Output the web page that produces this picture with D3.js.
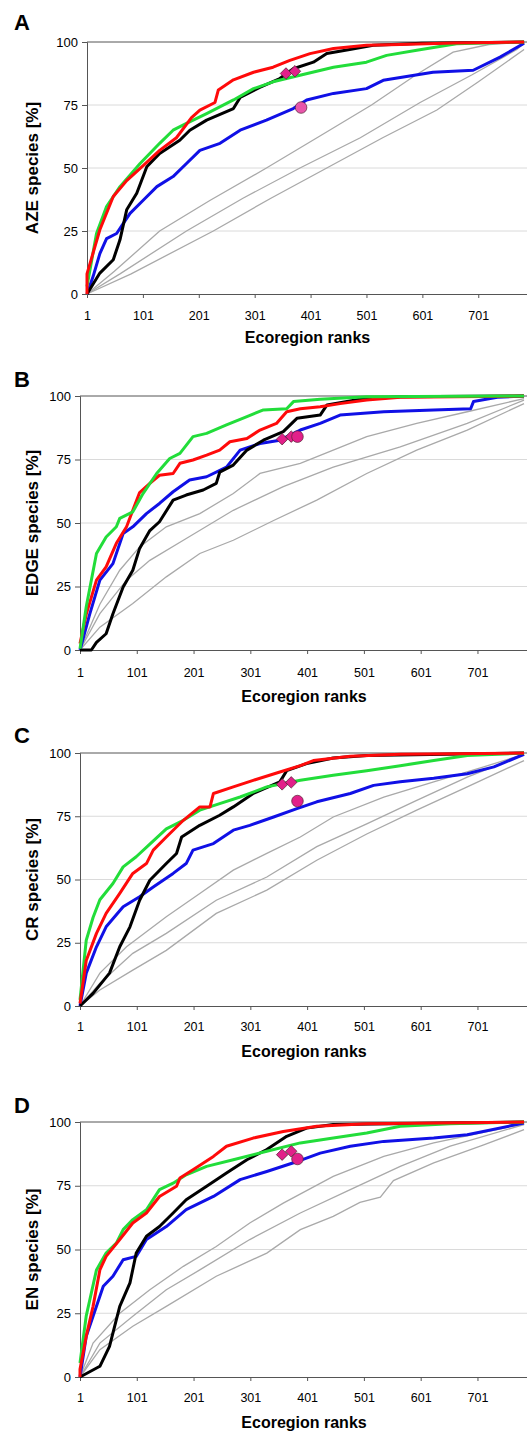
<html lang="en">
<head>
<meta charset="utf-8">
<title>Ecoregion ranks</title>
<script src="https://cdn.jsdelivr.net/npm/d3@7/dist/d3.min.js"></script>
<style>
body { margin: 0; background: white; overflow: hidden; }
text { font-family: "Liberation Sans", Arial, sans-serif; }
</style>
</head>
<body></body>
<script type="text/javascript">

//****************************************************************************************************************************//
// Data  ([ecoregion rank, % of species])

var xTicks = [1, 101, 201, 301, 401, 501, 601, 701];
var yTicks = [0, 25, 50, 75, 100];
var markerRanks = [357, 373, 384];   // diamond, diamond, circle

// A : AZE species
var aRed   = [[1,0],[1,8],[24,25.5],[48,38.7],[72,45],[102,51],[131,57],[161,62],[188,70],[203,73],[230,76],[236,81],[263,85],[299,88],[334,90],[364,92.7],[400,95.4],[442,97.4],[501,98.7],[561,99],[656,99.6],[783,100]];
var aGreen = [[1,3],[18,24],[36,34.7],[60,42.6],[96,51.8],[131,59.8],[155,65],[179,67.7],[215,71.6],[263,77],[299,81.5],[334,84.2],[382,86.8],[442,90],[501,92],[537,94.7],[591,96.7],[662,99.3],[783,100]];
var aBlack = [[1,0],[24,8.3],[48,13.6],[60,21.5],[72,33.4],[90,40],[108,50.5],[131,55.8],[167,61],[185,65],[215,69],[263,73.6],[275,78],[310,82],[346,85.5],[370,89.4],[406,92],[430,95.4],[471,97],[513,98.7],[600,99.5],[783,100]];
var aBlue  = [[1,0],[12,7],[24,16],[36,22],[54,24],[66,28],[78,32],[102,37.3],[126,42.6],[155,46.6],[179,51.8],[203,57],[239,59.8],[275,65],[322,69],[370,73.6],[394,77],[442,79.6],[501,81.5],[531,84.8],[620,88],[692,88.8],[740,94],[783,99.5]];
var aGrey1 = [[1,0],[50,9],[131,25],[220,37],[322,50],[420,63],[510,75],[590,87],[656,96],[720,99],[783,100]];
var aGrey2 = [[1,0],[60,8],[179,25],[280,38],[382,50],[490,62],[597,76],[690,87],[770,97],[783,99.5]];
var aGrey3 = [[1,0],[80,8],[227,25],[330,38],[430,50],[530,62],[627,73],[700,84],[783,97]];
var aMarks = [87.5, 88.4, 74];

// B : EDGE species
var bRed   = [[1,2.5],[12,14],[30,27.5],[47,32.7],[65,42],[83,48.5],[94,55],[106,62],[124,65.6],[141,68.8],[165,69.5],[177,73.5],[200,74.8],[224,76.7],[247,78.7],[265,82],[295,83.3],[318,86.6],[347,89.2],[365,93.8],[389,95],[424,95.8],[459,97],[506,98.4],[565,99.5],[783,100]];
var bGreen = [[1,0.5],[12,17],[30,38],[47,44.5],[65,48.5],[71,51.8],[94,54.4],[112,61.6],[136,69.5],[159,75.4],[177,77.4],[200,84],[224,85.3],[259,88.6],[295,91.9],[324,94.5],[365,95],[377,97.8],[424,98.7],[506,99.7],[783,100]];
var bBlack = [[1,0],[21,0],[30,3],[47,6.4],[59,14.3],[77,24.8],[94,31.4],[106,40],[124,47],[141,50.5],[165,59],[188,61],[218,63],[241,65.6],[247,70],[271,72.8],[295,78.7],[324,82.6],[359,86],[383,91.2],[424,92.5],[436,96.5],[494,98.7],[565,99.7],[783,100]];
var bBlue  = [[1,0],[18,14],[36,27.5],[59,34],[77,45.9],[94,48.5],[118,53.7],[141,57.7],[165,62.3],[194,66.9],[224,68.2],[259,72],[283,78.7],[318,81.3],[353,82.6],[389,86.6],[424,89.2],[459,92.5],[536,93.8],[624,94.5],[689,95],[694,97.8],[736,99.5],[783,100]];
var bGrey1 = [[1,0],[36,18],[71,31.4],[106,40.6],[153,48.5],[212,53.7],[271,61.6],[318,69.5],[389,73.5],[447,78.7],[506,84],[594,89.2],[683,93.8],[783,99]];
var bGrey2 = [[1,0],[36,14.3],[83,27.5],[124,35.3],[183,43.2],[271,55],[359,64.3],[447,72],[565,80],[683,89.2],[783,98.4]];
var bGrey3 = [[1,0],[36,9],[94,18.3],[153,28.8],[212,38],[271,43.2],[342,51],[418,59],[506,69.5],[594,78.7],[683,86.6],[783,97]];
var bMarks = [83, 84, 84];

// C : CR species
var cRed   = [[1,1],[12,18],[30,28.7],[47,36.6],[71,44.5],[94,52.4],[118,56.3],[130,61.6],[153,66.8],[183,73.4],[212,78.7],[230,78.7],[236,84],[271,86.6],[306,89.2],[353,92.5],[389,95],[412,97],[477,98.7],[565,99.5],[783,100]];
var cGreen = [[1,2.4],[12,26],[24,35],[36,42],[59,48.4],[77,55],[100,59],[124,64],[153,70],[183,73.4],[212,77.4],[247,80],[283,82.6],[330,86.6],[389,89.2],[447,91.2],[506,93],[565,95],[624,97],[683,99],[783,100]];
var cBlack = [[1,0],[24,5],[53,13],[71,23.4],[89,31.3],[106,41.8],[124,49.7],[153,56.3],[171,60.3],[180,66.8],[212,71.4],[247,75.4],[271,78.7],[306,84],[353,88.6],[365,93],[400,95.8],[447,98],[506,99],[783,100]];
var cBlue  = [[1,0],[12,13],[30,23.4],[47,31.3],[77,39.2],[106,43.2],[130,47],[165,52.4],[188,56.3],[200,61.6],[236,64.2],[271,69.5],[300,71.4],[342,74.7],[383,78],[418,80.7],[477,84],[518,87.2],[565,88.6],[624,90],[683,91.8],[730,94.5],[783,99.5]];
var cGrey1 = [[1,0],[36,13],[83,23.4],[153,35.3],[212,44.5],[271,53.7],[330,60.3],[389,66.8],[447,74.7],[536,82.6],[624,88.6],[712,94.5],[783,99.5]];
var cGrey2 = [[1,0],[36,9],[94,20.8],[153,28.7],[241,41.8],[330,51],[418,63],[506,72],[594,81.3],[683,90.5],[783,99.3]];
var cGrey3 = [[1,0],[36,6.3],[94,14.2],[153,22],[241,36.6],[330,45.8],[418,57.6],[506,68],[594,77.4],[683,86.6],[783,97]];
var cMarks = [87.6, 88.4, 81];

// D : EN species
var dRed   = [[1,0],[1,3],[12,16],[24,27.7],[36,42],[47,47.3],[71,53.9],[94,60.4],[118,64.3],[141,70.8],[171,74.8],[177,78],[200,81.3],[236,86.5],[259,90.5],[306,93.7],[359,96.3],[418,98.3],[506,99.3],[783,100]];
var dGreen = [[1,5.5],[12,24],[30,42],[47,48.6],[65,52.5],[77,57.8],[94,61.7],[118,65.6],[141,73.5],[165,76],[188,79.3],[224,82.6],[271,85.2],[330,88.5],[389,91.8],[447,93.7],[506,95.7],[565,98.3],[653,99.3],[783,100]];
var dBlack = [[1,0],[36,4.2],[53,12],[71,27.7],[89,36.9],[100,48.6],[118,55.2],[141,59],[165,64.3],[188,69.5],[224,74.8],[259,80],[295,85.2],[330,89.2],[365,94.4],[400,97.6],[447,99],[783,100]];
var dBlue  = [[1,0],[12,16],[24,23.8],[42,35.6],[59,39.5],[77,46],[100,47.3],[118,53.9],[153,59],[188,65.6],[236,70.8],[283,77.4],[330,80.6],[377,84],[424,87.8],[477,90.5],[536,92.4],[624,93.7],[683,95],[783,99.6]];
var dGrey1 = [[1,0],[24,13.3],[71,25],[124,34.2],[183,43.4],[241,51.2],[300,60.4],[359,68.2],[447,78.7],[536,86.5],[624,91.8],[783,99.3]];
var dGrey2 = [[1,0],[36,13.3],[94,23.8],[153,34.2],[212,42],[300,53.9],[389,64.3],[477,73.5],[565,82.6],[653,90.5],[783,99]];
var dGrey3 = [[1,0],[36,10.7],[94,19.9],[153,27.7],[241,39.5],[330,48.6],[389,57.8],[447,63],[494,68.5],[530,70.5],[553,77],[624,84],[712,91],[783,97]];
var dMarks = [87.2, 88.5, 85.5];

//****************************************************************************************************************************//
// Canvas

var width = 527, height = 1433;

var canvas = d3.select("body")
            .append("svg")
            .attr("width", width)
            .attr("height", height);

canvas.append("rect")
        .attr("width", width)
        .attr("height", height)
        .attr("fill", "white");

var panels = [
    { letter: "A", ylab: "AZE species [%]",  left: 87, top: 42,   bottom: 294,  letterY: 30,   tickY: 320,  titleY: 343,
      grey: [aGrey1, aGrey2, aGrey3], lines: [aBlue, aBlack, aGreen, aRed], marks: aMarks },
    { letter: "B", ylab: "EDGE species [%]", left: 80, top: 396,  bottom: 650,  letterY: 387,  tickY: 677,  titleY: 702,
      grey: [bGrey1, bGrey2, bGrey3], lines: [bBlue, bBlack, bRed, bGreen], marks: bMarks },
    { letter: "C", ylab: "CR species [%]",   left: 80, top: 753,  bottom: 1006, letterY: 743,  tickY: 1031, titleY: 1057,
      grey: [cGrey1, cGrey2, cGrey3], lines: [cBlue, cBlack, cGreen, cRed], marks: cMarks },
    { letter: "D", ylab: "EN species [%]",   left: 80, top: 1122, bottom: 1377, letterY: 1113, tickY: 1402, titleY: 1428,
      grey: [dGrey1, dGrey2, dGrey3], lines: [dBlue, dBlack, dGreen, dRed], marks: dMarks }
];

var lineColors = { blue: "#1010e6", black: "#000000", green: "#22dd3a", red: "#ff0a0a" };
var plotRight = 528;

//****************************************************************************************************************************//
// Panels

panels.forEach(function(p){

    var x = d3.scaleLinear().domain([1, 790]).range([p.left, plotRight]);
    var y = d3.scaleLinear().domain([0, 100]).range([p.bottom, p.top]);
    var g = canvas.append("g");

    // panel letter
    g.append("text")
        .attr("x", 14)
        .attr("y", p.letterY)
        .style("font-size", "22px")
        .style("font-weight", "bold")
        .text(p.letter);

    // grid
    g.selectAll(".grid")
        .data([25, 50, 75])
        .enter().append("line")
        .attr("x1", p.left).attr("x2", plotRight)
        .attr("y1", function(d){ return y(d); })
        .attr("y2", function(d){ return y(d); })
        .attr("stroke", "#dadada")
        .attr("stroke-width", 1);

    // y axis
    var yAxis = d3.axisLeft(y).tickValues(yTicks).tickSize(5).tickPadding(4);
    var ya = g.append("g")
        .attr("transform", "translate(" + p.left + ",0)")
        .call(yAxis);
    ya.select(".domain").attr("stroke", "#555");
    ya.selectAll(".tick line").attr("stroke", "#555");
    ya.selectAll("text")
        .style("font-family", "'Liberation Sans', Arial, sans-serif")
        .style("font-size", "13px")
        .attr("fill", "#000");

    // x axis
    var xAxis = d3.axisBottom(x).tickValues(xTicks).tickSize(4).tickPadding(0);
    var xa = g.append("g")
        .attr("transform", "translate(0," + p.bottom + ")")
        .call(xAxis);
    xa.select(".domain").attr("stroke", "#555");
    xa.selectAll(".tick line").attr("stroke", "#555");
    xa.selectAll("text")
        .attr("y", p.tickY - p.bottom)
        .attr("dy", 0)
        .style("font-family", "'Liberation Sans', Arial, sans-serif")
        .style("font-size", "12.5px")
        .attr("fill", "#000");

    // top frame
    g.append("line")
        .attr("x1", p.left).attr("x2", plotRight)
        .attr("y1", y(100)).attr("y2", y(100))
        .attr("stroke", "#555")
        .attr("stroke-width", 1);

    // axis titles
    g.append("text")
        .attr("x", (p.left + plotRight) / 2)
        .attr("y", p.titleY)
        .attr("text-anchor", "middle")
        .style("font-size", "16px")
        .style("font-weight", "bold")
        .text("Ecoregion ranks");

    g.append("text")
        .attr("transform", "translate(38," + ((p.top + p.bottom) / 2) + ") rotate(-90)")
        .attr("text-anchor", "middle")
        .style("font-size", "17px")
        .style("font-weight", "bold")
        .text(p.ylab);

    var line = d3.line()
        .x(function(d){ return x(d[0]); })
        .y(function(d){ return y(d[1]); });

    // random (grey) curves
    g.selectAll(".grey")
        .data(p.grey)
        .enter().append("path")
        .attr("d", line)
        .attr("fill", "none")
        .attr("stroke", "#a9a9a9")
        .attr("stroke-width", 1.3);

    // coloured curves
    g.selectAll(".curve")
        .data(p.lines)
        .enter().append("path")
        .attr("d", line)
        .attr("fill", "none")
        .attr("stroke", function(d){
            if (d === aRed || d === bRed || d === cRed || d === dRed) return lineColors.red;
            if (d === aGreen || d === bGreen || d === cGreen || d === dGreen) return lineColors.green;
            if (d === aBlack || d === bBlack || d === cBlack || d === dBlack) return lineColors.black;
            return lineColors.blue;
        })
        .attr("stroke-width", 3)
        .attr("stroke-linejoin", "round");

    // markers
    var diamond = d3.symbol().type(d3.symbolSquare).size(66);
    for (var i = 0; i < 2; i++) {
        g.append("path")
            .attr("d", diamond())
            .attr("transform", "translate(" + x(markerRanks[i]) + "," + y(p.marks[i]) + ") rotate(45)")
            .attr("fill", "#e2208a")
            .attr("stroke", "#552233")
            .attr("stroke-width", 0.7);
    }
    g.append("circle")
        .attr("cx", x(markerRanks[2]))
        .attr("cy", y(p.marks[2]))
        .attr("r", 5.8)
        .attr("fill", p.letter == "A" ? "#e855aa" : "#e2208a")
        .attr("stroke", "#552233")
        .attr("stroke-width", 0.7);
});

</script>
</html>
